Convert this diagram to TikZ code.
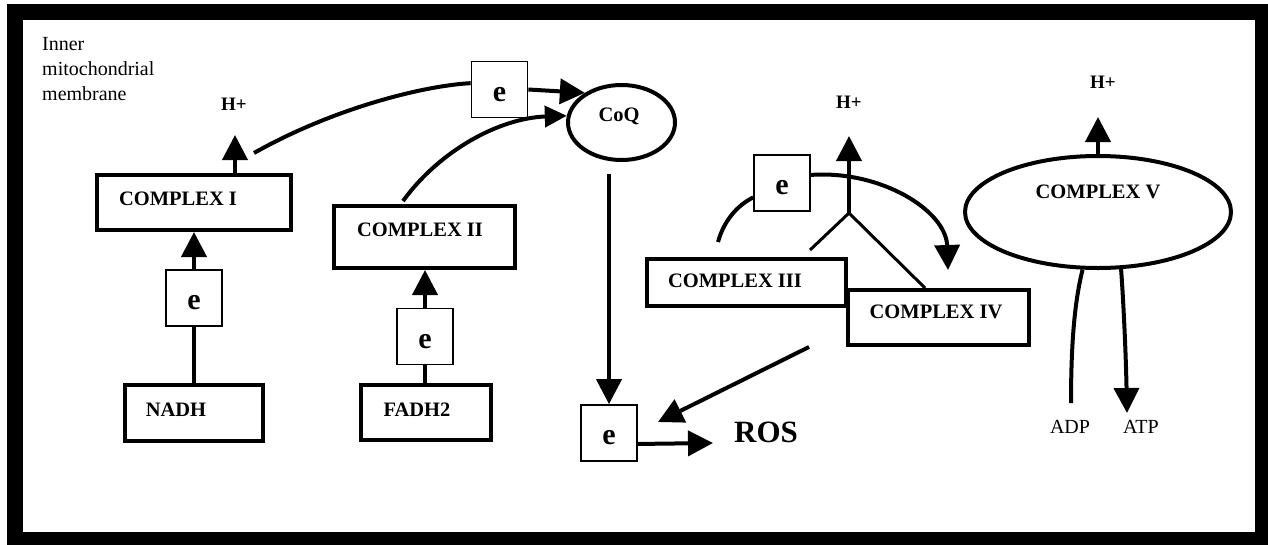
\documentclass[tikz,border=0pt]{standalone}
\usepackage{fontspec}
\setmainfont{Liberation Serif}
\usetikzlibrary{arrows.meta,calc,shapes.geometric}
\begin{document}
\begin{tikzpicture}[x=1pt,y=-1pt,
  cbox/.style={draw, line width=4pt, fill=white, inner sep=0pt},
  ebox/.style={draw, line width=1.7pt, fill=white, minimum width=56pt, minimum height=56pt, inner sep=0pt, font=\bfseries\fontsize{30}{30}\selectfont, text height=23pt, text depth=0pt},
  lbl/.style={inner sep=0pt, font=\bfseries\fontsize{20.5}{24}\selectfont},
  hlbl/.style={inner sep=0pt, font=\bfseries\fontsize{19}{22}\selectfont},
  plain/.style={inner sep=0pt, font=\fontsize{20}{25}\selectfont},
  oval/.style={draw, ellipse, line width=4pt, inner sep=0pt},
  arr/.style={line width=4pt, -{Triangle[length=25pt,width=25pt]}},
  sarr/.style={line width=4pt, -{Triangle[length=22pt,width=21pt]}},
  ln/.style={line width=4pt},
  thinln/.style={line width=3pt},
]
\fill[white] (0,0) rectangle (1268,544);
\useasboundingbox (0,0) rectangle (1268,544);
\draw[line width=16pt] (15,12) rectangle (1263,540);

% boxes
\node[cbox, minimum width=194pt, minimum height=55pt] (c1) at (194,202.5) {};
\node[lbl] (c1t) at (178,199) {COMPLEX I};
\node[cbox, minimum width=181pt, minimum height=62pt] (c2) at (424.5,237) {};
\node[lbl] (c2t) at (420,230) {COMPLEX II};
\node[cbox, minimum width=138pt, minimum height=56pt] (nadh) at (194,413) {};
\node[lbl] (nadht) at (176,410) {NADH};
\node[cbox, minimum width=130pt, minimum height=55pt] (fadh) at (426,412.5) {};
\node[lbl] (fadht) at (417,410) {FADH2};
\node[cbox, minimum width=199pt, minimum height=47pt] (c3) at (746.5,282.5) {};
\node[lbl] (c3t) at (735,281) {COMPLEX III};
\node[cbox, minimum width=181pt, minimum height=55pt] (c4) at (938.5,317.5) {};
\node[lbl] (c4t) at (936,312) {COMPLEX IV};
\node[oval, minimum width=266pt, minimum height=112pt] (c5) at (1098,212) {};
\node[lbl] (c5t) at (1098,192) {COMPLEX V};
\node[oval, minimum width=107pt, minimum height=75pt] (coq) at (621.5,122.5) {};
\node[lbl] (coqt) at (619,116) {CoQ};

% e boxes
\node[ebox] (e1) at (194,298) {e};
\node[ebox] (e2) at (425,336.5) {e};
\node[ebox] (e3) at (499.5,89.5) {e};
\node[ebox] (e4) at (782,183) {e};
\node[ebox] (e5) at (609,433) {e};

% labels
\node[hlbl] (h1) at (234,104) {H+};
\node[hlbl] (h2) at (849,102) {H+};
\node[hlbl] (h3) at (1103,82) {H+};
\node[inner sep=0pt, font=\bfseries\fontsize{31}{31}\selectfont] (ros) at (766,432.5) {ROS};
\node[plain] (adp) at (1070,426.5) {ADP};
\node[plain] (atp) at (1141,426.5) {ATP};
\node[plain, align=left, anchor=north west] (imm) at (42,37) {Inner\\mitochondrial\\membrane};

% free ends
\coordinate (h1tip) at (235,135);
\coordinate (h2tip) at (849,136);
\coordinate (h3tip) at (1098,117);
\coordinate (s1) at (254,153);
\coordinate (s2) at (403,201);
\coordinate (s3) at (609,174);
\coordinate (rostip) at (713,443);
\coordinate (s4) at (809,347);
\coordinate (t4) at (658,422);
\coordinate (j) at (849,213);
\coordinate (b1) at (810,250);
\coordinate (b2) at (925,288);
\coordinate (s5) at (718,242);
\coordinate (t5) at (948,270);
\coordinate (adpend) at (1071,403);
\coordinate (atptip) at (1127,413);

% connectors
\draw[arr] (h1tip |- c1.north) -- (h1tip);
\draw[arr] (e1.north) -- (e1.north |- c1.south);
\draw[ln] (e1.south |- nadh.north) -- (e1.south);
\draw[arr] (e2.north) -- (e2.north |- c2.south);
\draw[ln] (e2.south |- fadh.north) -- (e2.south);
\draw[ln] (s1) .. controls (330,110) and (420,86) .. ($(e3.north west)!0.39!(e3.south west)$);
\draw[arr] (e3.east) -- (coq.141);
\draw[sarr] (s2) .. controls (440,150) and (500,118) .. (coq.173);
\draw[arr] (s3) -- (e5.north);
\draw[arr] ($(e5.north east)!0.69!(e5.south east)$) -- (rostip);
\draw[arr] (s4) -- (t4);
\draw[arr] (j) -- (h2tip);
\draw[thinln] (b1) -- (j) -- (b2);
\draw[ln] (s5) .. controls (724,220) and (738,205) .. ($(e4.north west)!0.75!(e4.south west)$);
\draw[arr] ($(e4.north east)!0.36!(e4.south east)$) .. controls (880,170) and (946,210) .. (t5);
\draw[arr] (c5.north) -- (h3tip);
\draw[ln] (c5.-105) .. controls (1075,300) and (1071,340) .. (adpend);
\draw[arr] (c5.-68) .. controls (1124,310) and (1126,360) .. (atptip);
\end{tikzpicture}
\end{document}
